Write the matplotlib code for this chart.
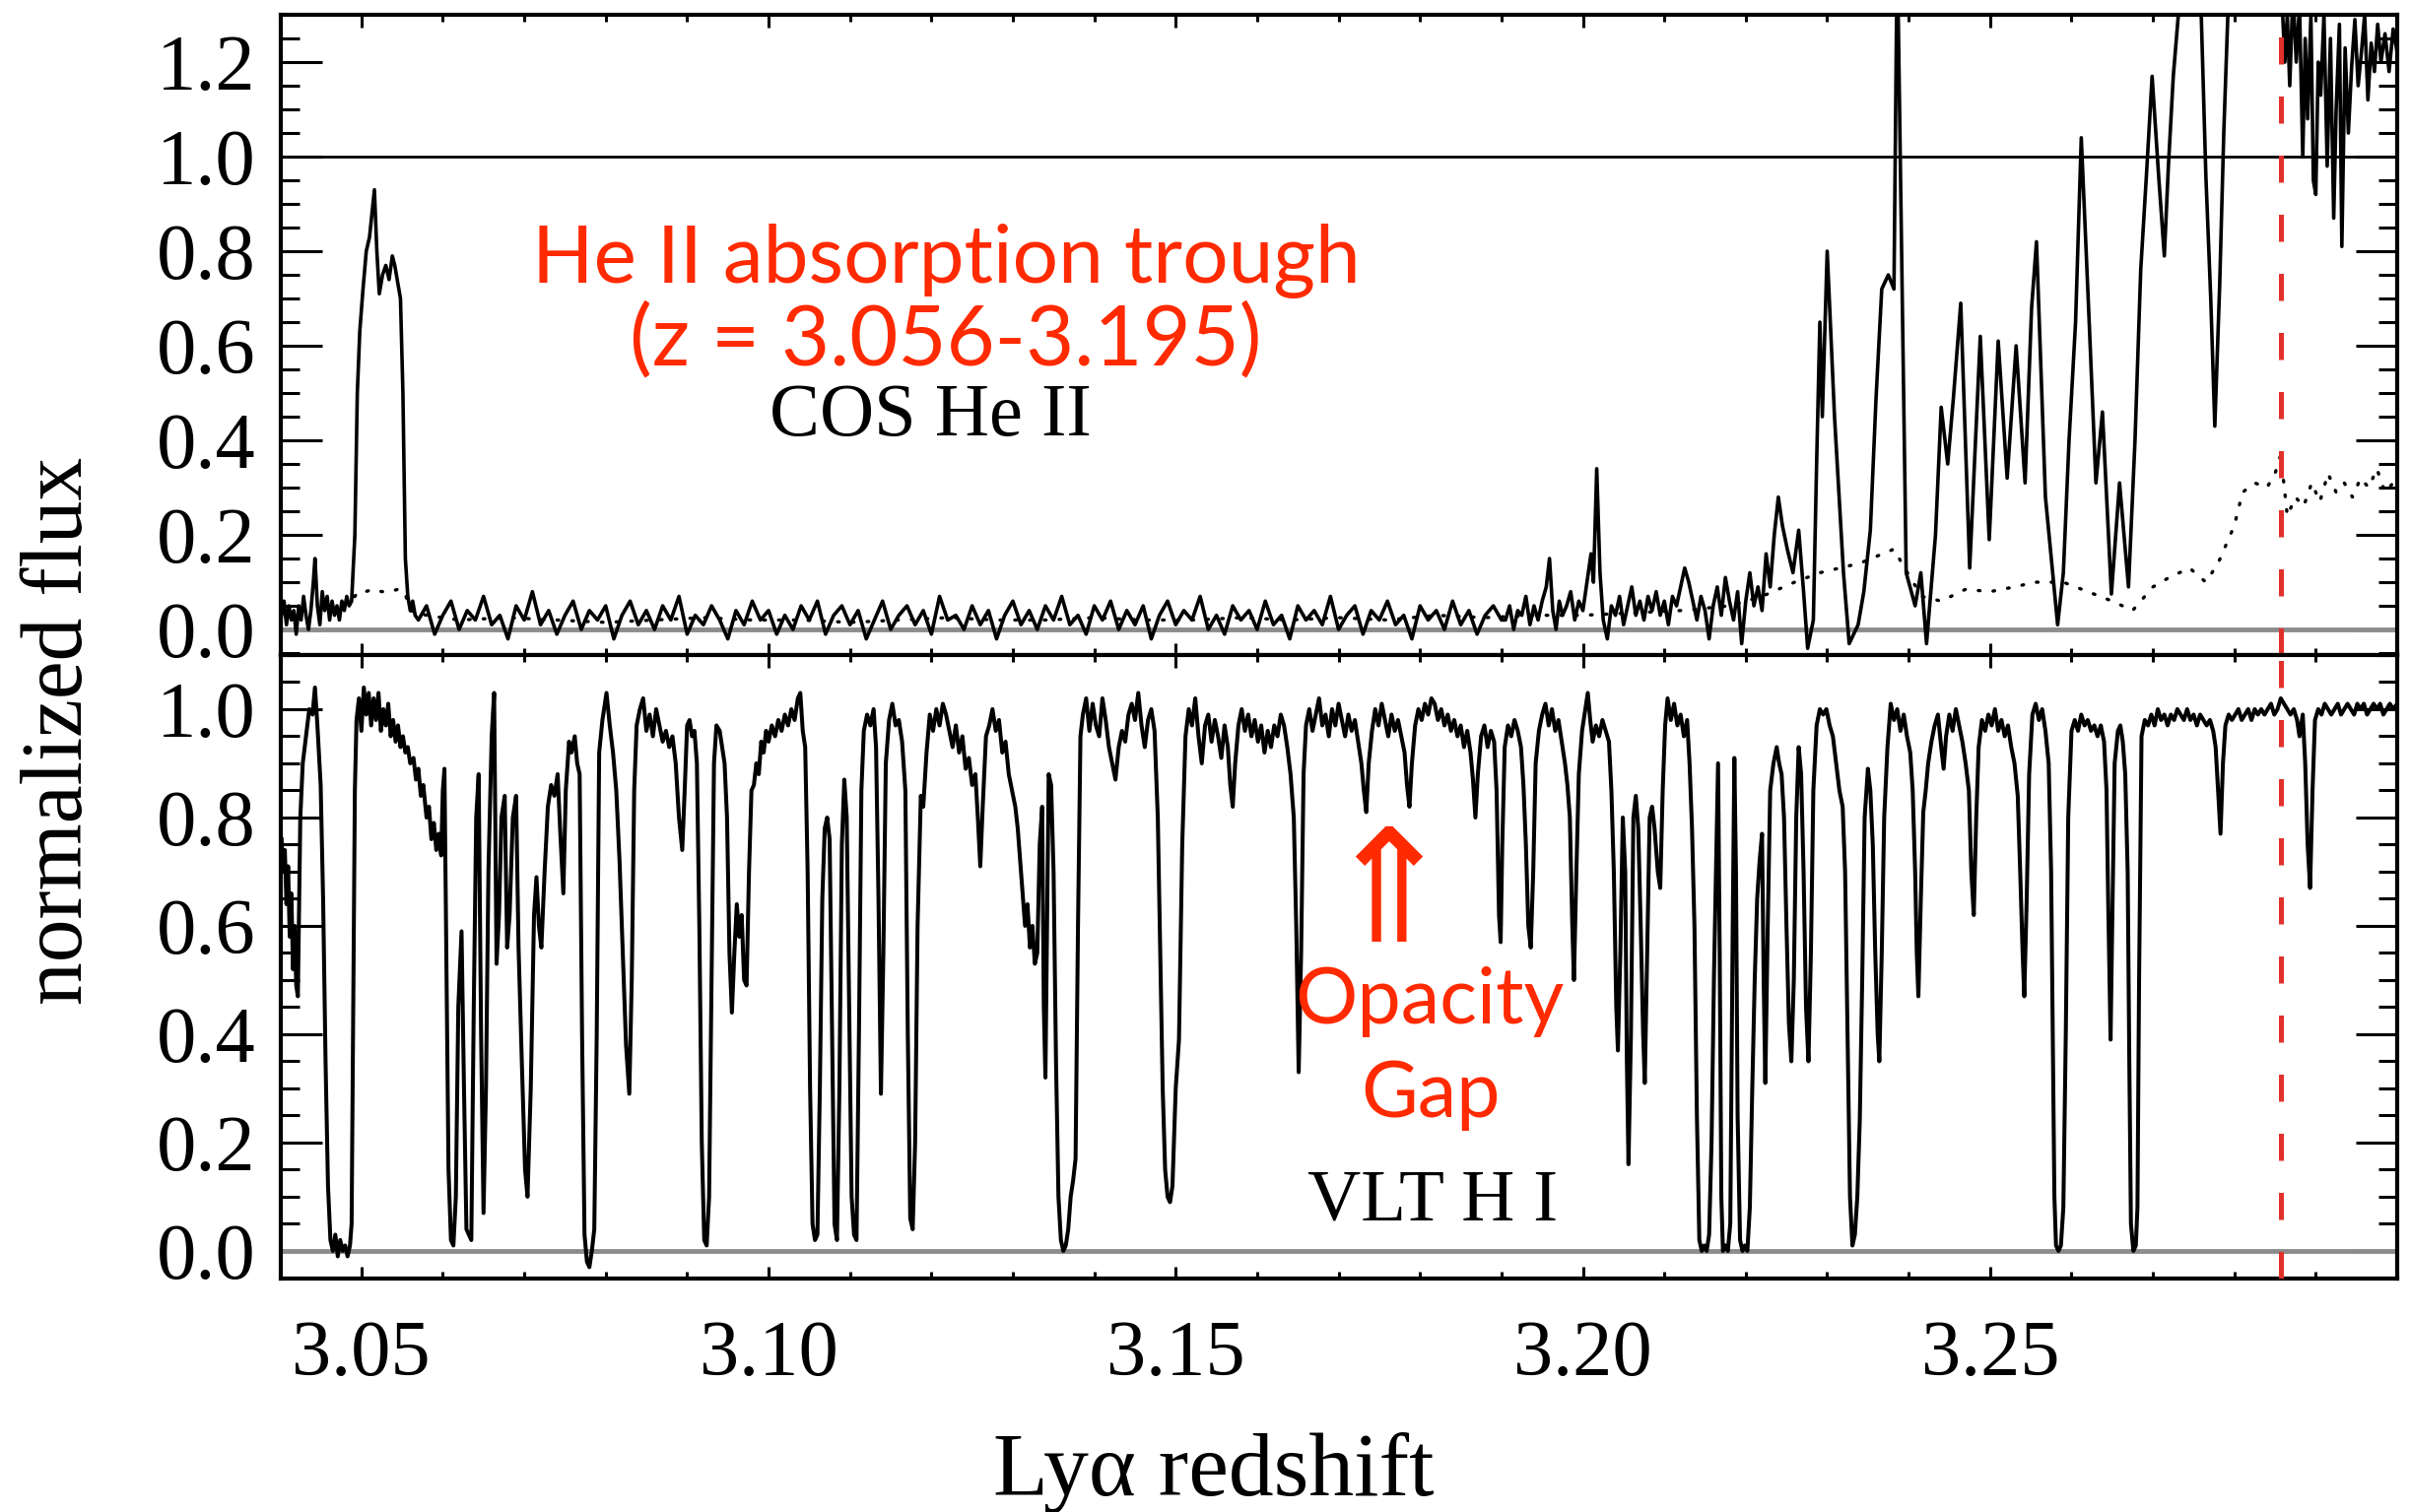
import matplotlib.pyplot as plt
from matplotlib.ticker import MultipleLocator, FixedLocator, FormatStrFormatter

# COS He II flux, upper panel
cos_z = [
    3.0402, 3.0405, 3.0408, 3.0411, 3.0414, 3.0417, 3.0420, 3.0423, 3.0426, 3.0429,
    3.0432, 3.0435, 3.0438, 3.0441, 3.0443, 3.0446, 3.0449, 3.0452, 3.0455, 3.0458,
    3.0461, 3.0464, 3.0467, 3.0470, 3.0473, 3.0476, 3.0479, 3.0482, 3.0485, 3.0488,
    3.0492, 3.0495, 3.0498, 3.0502, 3.0506, 3.0510, 3.0513, 3.0516, 3.0519, 3.0522,
    3.0526, 3.0530, 3.0534, 3.0538, 3.0541, 3.0545, 3.0548, 3.0551, 3.0554, 3.0557,
    3.0560, 3.0563, 3.0566,
    3.057, 3.058, 3.059, 3.060, 3.061, 3.062, 3.063, 3.064, 3.065, 3.066,
    3.067, 3.068, 3.069, 3.070, 3.071, 3.072, 3.073, 3.074, 3.075, 3.076,
    3.077, 3.078, 3.079, 3.080, 3.081, 3.082, 3.083, 3.084, 3.085, 3.086,
    3.087, 3.088, 3.089, 3.090, 3.091, 3.092, 3.093, 3.094, 3.095, 3.096,
    3.097, 3.098, 3.099, 3.100, 3.101, 3.102, 3.103, 3.104, 3.105, 3.106,
    3.107, 3.108, 3.109, 3.110, 3.111, 3.112, 3.113, 3.114, 3.115, 3.116,
    3.117, 3.118, 3.119, 3.120, 3.121, 3.122, 3.123, 3.124, 3.125, 3.126,
    3.127, 3.128, 3.129, 3.130, 3.131, 3.132, 3.133, 3.134, 3.135, 3.136,
    3.137, 3.138, 3.139, 3.140, 3.141, 3.142, 3.143, 3.144, 3.145, 3.146,
    3.147, 3.148, 3.149, 3.150, 3.151, 3.152, 3.153, 3.154, 3.155, 3.156,
    3.157, 3.158, 3.159, 3.160, 3.161, 3.162, 3.163, 3.164, 3.165, 3.166,
    3.167, 3.168, 3.169, 3.170, 3.171, 3.172, 3.173, 3.174, 3.175, 3.176,
    3.177, 3.178, 3.179, 3.180, 3.181, 3.182, 3.183, 3.184, 3.185, 3.186,
    3.187, 3.188, 3.189, 3.190,
    3.1905, 3.1910, 3.1915, 3.1920, 3.1925, 3.1930, 3.1935, 3.1940, 3.1945, 3.1950,
    3.1955, 3.1959, 3.1963, 3.1967, 3.1971, 3.1975, 3.1980, 3.1985, 3.1990, 3.1995,
    3.2000, 3.2005, 3.2010, 3.2013, 3.2017, 3.2021, 3.2025, 3.2030, 3.2035, 3.2040,
    3.2045, 3.2050, 3.2055, 3.2060, 3.2065, 3.2070, 3.2075, 3.2080, 3.2085, 3.2090,
    3.2095, 3.2100, 3.2105, 3.2110, 3.2115, 3.2120, 3.2125, 3.2130, 3.2135, 3.2140,
    3.2145, 3.2150, 3.2155, 3.2160, 3.2165, 3.2170, 3.2175, 3.2180, 3.2185, 3.2190,
    3.2195, 3.2200, 3.2205, 3.2210, 3.2215, 3.2220, 3.2225, 3.2230, 3.2235, 3.2240,
    3.2245, 3.2251, 3.2258, 3.2265, 3.2271, 3.2276, 3.2283, 3.2287, 3.2291, 3.2294,
    3.2300, 3.2309, 3.2320, 3.2327, 3.2338, 3.2345, 3.2353, 3.2360, 3.2367, 3.2375,
    3.2382, 3.2386, 3.2391, 3.2397, 3.2408, 3.2415, 3.2422, 3.2433, 3.2440, 3.2448,
    3.2455, 3.2464, 3.2475, 3.2488, 3.2499, 3.2510, 3.2521, 3.2532, 3.2543, 3.2551,
    3.2557, 3.2568, 3.2583, 3.2590, 3.2597, 3.2605, 3.2612, 3.2621, 3.2630, 3.2638,
    3.2649, 3.2659, 3.2670, 3.2678, 3.2685, 3.2692, 3.2699, 3.2707, 3.2714, 3.2719,
    3.2725, 3.2736, 3.2747, 3.2758, 3.2765, 3.2771, 3.2776, 3.2782, 3.2787, 3.2794,
    3.2800, 3.2810, 3.2820, 3.2830, 3.2840, 3.2850, 3.2858, 3.2862, 3.2865, 3.2868,
    3.2872, 3.2876, 3.2880, 3.2884, 3.2887, 3.2890, 3.2894, 3.2897, 3.2900, 3.2903,
    3.2906, 3.2910, 3.2914, 3.2918, 3.2922, 3.2925, 3.2929, 3.2932, 3.2936, 3.2940,
    3.2944, 3.2948, 3.2952, 3.2956, 3.2960, 3.2964, 3.2968, 3.2972, 3.2976, 3.2980,
    3.2985, 3.2990, 3.2995, 3.3000,
]
cos_flux = [
    0.03, 0.06, 0.01, 0.05, 0.02, 0.04, -0.01, 0.05, 0.02, 0.07,
    0.03, 0.00, 0.04, 0.10, 0.15, 0.05, 0.01, 0.08, 0.04, 0.07,
    0.02, 0.06, 0.03, 0.05, 0.02, 0.06, 0.04, 0.07, 0.05, 0.06,
    0.20, 0.50, 0.63, 0.72, 0.80, 0.83, 0.88, 0.93, 0.80, 0.71,
    0.75, 0.77, 0.74, 0.79, 0.77, 0.73, 0.70, 0.50, 0.15, 0.07,
    0.04, 0.06, 0.03,
    0.02, 0.05, -0.01, 0.03, 0.06, 0.00, 0.04, 0.02, 0.07, 0.01,
    0.03, -0.02, 0.05, 0.02, 0.08, 0.01, 0.04, -0.01, 0.03, 0.06,
    0.00, 0.04, 0.02, 0.05, -0.02, 0.03, 0.06, 0.01, 0.04, 0.00,
    0.05, 0.02, 0.07, -0.01, 0.03, 0.01, 0.05, 0.02, -0.02, 0.04,
    0.01, 0.06, 0.02, 0.04, -0.01, 0.03, 0.00, 0.05, 0.02, 0.06,
    -0.01, 0.03, 0.05, 0.01, 0.04, -0.02, 0.02, 0.06, 0.00, 0.03,
    0.05, 0.01, 0.04, -0.01, 0.07, 0.02, 0.03, 0.00, 0.05, 0.01,
    0.04, -0.02, 0.03, 0.06, 0.01, 0.04, 0.00, 0.05, 0.02, 0.07,
    0.01, 0.03, -0.01, 0.05, 0.02, 0.06, 0.00, 0.04, 0.01, 0.05,
    -0.02, 0.03, 0.06, 0.01, 0.04, 0.02, 0.07, 0.00, 0.03, -0.01,
    0.05, 0.02, 0.04, 0.00, 0.06, 0.01, 0.03, -0.02, 0.05, 0.02,
    0.04, 0.01, 0.07, 0.00, 0.03, 0.05, -0.01, 0.04, 0.02, 0.06,
    0.01, 0.03, -0.02, 0.05, 0.02, 0.04, 0.00, 0.06, 0.01, 0.04,
    -0.01, 0.03, 0.05, 0.02,
    0.02, 0.05, 0.00, 0.04, 0.03, 0.07, 0.01, 0.05, 0.02, 0.06,
    0.09, 0.15, 0.04, 0.00, 0.06, 0.03, 0.05, 0.08, 0.02, 0.06,
    0.04, 0.10, 0.16, 0.10, 0.34, 0.12, 0.02, -0.02, 0.05, 0.03,
    0.07, 0.01, 0.05, 0.09, 0.03, 0.06, 0.02, 0.07, 0.04, 0.08,
    0.03, 0.06, 0.01, 0.07, 0.05, 0.09, 0.13, 0.10, 0.06, 0.02,
    0.07, 0.04, -0.02, 0.05, 0.09, 0.03, 0.11, 0.06, 0.02, 0.08,
    -0.03, 0.06, 0.12, 0.05, 0.09, 0.04, 0.16, 0.09, 0.20, 0.28,
    0.22, 0.17, 0.12, 0.21, 0.08, -0.04, 0.02, 0.35, 0.65, 0.45,
    0.80, 0.45, 0.12, -0.03, 0.01, 0.08, 0.21, 0.49, 0.72, 0.75,
    0.72, 1.45, 0.85, 0.12, 0.05, 0.12, -0.03, 0.20, 0.47, 0.35,
    0.49, 0.69, 0.13, 0.62, 0.19, 0.61, 0.32, 0.60, 0.31, 0.68,
    0.82, 0.28, 0.01, 0.12, 0.40, 0.65, 1.04, 0.68, 0.31, 0.46,
    0.075, 0.31, 0.09, 0.40, 0.76, 0.96, 1.17, 0.96, 0.79, 0.98,
    1.17, 1.40, 1.45, 1.38, 0.96, 0.70, 0.43, 0.73, 1.05, 1.40,
    1.50, 1.45, 1.55, 1.48, 1.50, 1.42, 1.35, 1.20, 1.30, 1.15,
    1.35, 1.20, 1.32, 1.00, 1.25, 1.08, 1.30, 0.95, 0.92, 1.20,
    1.13, 1.30, 0.98, 1.25, 0.87, 1.10, 1.28, 0.81, 1.23, 1.05,
    1.19, 1.29, 1.15, 1.22, 1.30, 1.12, 1.24, 1.18, 1.28, 1.20,
    1.26, 1.18, 1.27, 1.22,
]

# dotted COS curve
cos_dot_z = [
    3.0478, 3.0488, 3.0496, 3.0505, 3.0515, 3.0525, 3.0535, 3.0545, 3.0553, 3.0560,
    3.0580, 3.0620, 3.0680, 3.0740, 3.0800, 3.0860, 3.0920, 3.0980, 3.1040, 3.1100,
    3.1160, 3.1220, 3.1280, 3.1340, 3.1400, 3.1460, 3.1520, 3.1580, 3.1640, 3.1700,
    3.1760, 3.1820, 3.1880, 3.1940, 3.2000, 3.2060, 3.2120, 3.2180, 3.2220, 3.2260,
    3.2291, 3.2340, 3.2382, 3.2395, 3.2416, 3.2440, 3.2470, 3.2500, 3.2530, 3.2555,
    3.2590, 3.2620, 3.2650, 3.2675, 3.2700, 3.2720, 3.2745, 3.2765, 3.2780, 3.2800,
    3.2810, 3.2825, 3.2840, 3.2850, 3.2857, 3.2865, 3.2875, 3.2885, 3.2895, 3.2905,
    3.2915, 3.2925, 3.2935, 3.2945, 3.2955, 3.2965, 3.2975, 3.2985, 3.2995,
]
cos_dot = [
    0.05, 0.06, 0.08, 0.08, 0.085, 0.08, 0.08, 0.085, 0.08, 0.04,
    0.03, 0.02, 0.025, 0.02, 0.015, 0.02, 0.025, 0.02, 0.02, 0.015,
    0.02, 0.025, 0.02, 0.02, 0.025, 0.02, 0.02, 0.025, 0.02, 0.025,
    0.02, 0.03, 0.025, 0.03, 0.03, 0.035, 0.04, 0.05, 0.07, 0.10,
    0.12, 0.14, 0.17, 0.13, 0.07, 0.06, 0.085, 0.08, 0.09, 0.10,
    0.10, 0.08, 0.06, 0.04, 0.09, 0.11, 0.13, 0.10, 0.14, 0.22,
    0.29, 0.31, 0.30, 0.33, 0.37, 0.24, 0.28, 0.26, 0.31, 0.27,
    0.33, 0.29, 0.31, 0.28, 0.32, 0.30, 0.34, 0.29, 0.31,
]

# VLT H I flux, lower panel
vlt_z = [
    3.0402, 3.0404, 3.0406, 3.0408, 3.0410, 3.0412, 3.0414, 3.0416, 3.0418, 3.0420,
    3.0422, 3.0425, 3.0428, 3.0432, 3.0436, 3.0440, 3.0443, 3.0446, 3.0450, 3.0453,
    3.0456, 3.0459, 3.0462, 3.0465, 3.0468, 3.0471, 3.0474, 3.0477, 3.0480, 3.0483,
    3.0486, 3.0488, 3.0490, 3.0492, 3.0494, 3.0497, 3.0500, 3.0503, 3.0506, 3.0509,
    3.0512, 3.0515, 3.0518, 3.0521, 3.0524, 3.0527, 3.0530, 3.0533, 3.0536, 3.0539,
    3.0542, 3.0545, 3.0548, 3.0551, 3.0554, 3.0557, 3.0560, 3.0564, 3.0567, 3.0570,
    3.0573, 3.0576, 3.0580, 3.0583, 3.0586, 3.0589, 3.0592, 3.0595, 3.0598, 3.0600,
    3.0602, 3.0604, 3.0607, 3.0610, 3.0613, 3.0616, 3.0619, 3.0623, 3.0626, 3.0629,
    3.0632, 3.0635, 3.0638, 3.0641, 3.0644, 3.0647, 3.0650, 3.0653, 3.0656, 3.0660,
    3.0663, 3.0666, 3.0669, 3.0672, 3.0676, 3.0679, 3.0682, 3.0686, 3.0690, 3.0693,
    3.0697, 3.0701, 3.0704, 3.0708, 3.0712, 3.0715, 3.0718, 3.0721, 3.0725, 3.0729,
    3.0733, 3.0737, 3.0741, 3.0744, 3.0748, 3.0751, 3.0755, 3.0758, 3.0762, 3.0765,
    3.0768, 3.0771, 3.0774, 3.0777, 3.0780, 3.0783, 3.0786, 3.0789, 3.0792, 3.0796,
    3.0801, 3.0805, 3.0809, 3.0813, 3.0817, 3.0821, 3.0825, 3.0829, 3.0832, 3.0835,
    3.0838, 3.0842, 3.0846, 3.0850, 3.0854, 3.0858, 3.0862, 3.0866, 3.0870, 3.0874,
    3.0878, 3.0882, 3.0886, 3.0890, 3.0894, 3.0897, 3.0900, 3.0903, 3.0906, 3.0909,
    3.0912, 3.0915, 3.0918, 3.0921, 3.0924, 3.0927, 3.0930, 3.0933, 3.0936, 3.0940,
    3.0943, 3.0946, 3.0949, 3.0952, 3.0955, 3.0958, 3.0961, 3.0964, 3.0967, 3.0970,
    3.0973, 3.0976, 3.0979, 3.0982, 3.0985, 3.0988, 3.0991, 3.0994, 3.0997, 3.1000,
    3.1004, 3.1008, 3.1012, 3.1016, 3.1020, 3.1024, 3.1028, 3.1032, 3.1036, 3.1039,
    3.1042, 3.1045, 3.1048, 3.1051, 3.1054, 3.1057, 3.1060, 3.1063, 3.1066, 3.1069,
    3.1072, 3.1075, 3.1078, 3.1081, 3.1084, 3.1087, 3.1090, 3.1093, 3.1096, 3.1099,
    3.1102, 3.1105, 3.1108, 3.1111, 3.1114, 3.1117, 3.1121, 3.1125, 3.1129, 3.1132,
    3.1135, 3.1138, 3.1141, 3.1144, 3.1148, 3.1152, 3.1156, 3.1160, 3.1164, 3.1168,
    3.1171, 3.1174, 3.1177, 3.1180, 3.1183, 3.1187, 3.1190, 3.1194, 3.1198, 3.1202,
    3.1206, 3.1210, 3.1214, 3.1218, 3.1222, 3.1226, 3.1230, 3.1234, 3.1238, 3.1242,
    3.1246, 3.1250, 3.1254, 3.1257, 3.1260, 3.1263, 3.1267, 3.1271, 3.1275, 3.1279,
    3.1283, 3.1287, 3.1291, 3.1295, 3.1299, 3.1303, 3.1306, 3.1309, 3.1312, 3.1315,
    3.1318, 3.1321, 3.1324, 3.1327, 3.1330, 3.1333, 3.1336, 3.1338, 3.1340, 3.1342,
    3.1344, 3.1347, 3.1350, 3.1353, 3.1356, 3.1359, 3.1362, 3.1365, 3.1368, 3.1371,
    3.1374, 3.1377, 3.1380, 3.1383, 3.1386, 3.1390, 3.1394, 3.1398, 3.1402, 3.1406,
    3.1410, 3.1414, 3.1418, 3.1422, 3.1426, 3.1430, 3.1434, 3.1438, 3.1442, 3.1446,
    3.1450, 3.1454, 3.1458, 3.1462, 3.1466, 3.1470, 3.1474, 3.1478, 3.1481, 3.1484,
    3.1487, 3.1490, 3.1493, 3.1496, 3.1500, 3.1504, 3.1508, 3.1512, 3.1516, 3.1520,
    3.1524, 3.1528, 3.1532, 3.1536, 3.1540, 3.1544, 3.1548, 3.1552, 3.1556, 3.1560,
    3.1564, 3.1567, 3.1570, 3.1573, 3.1577, 3.1581, 3.1585, 3.1589, 3.1593, 3.1597,
    3.1601, 3.1605, 3.1609, 3.1613, 3.1617, 3.1621, 3.1625, 3.1629, 3.1633, 3.1637,
    3.1641, 3.1645, 3.1648, 3.1651, 3.1654, 3.1657, 3.1660, 3.1664, 3.1668, 3.1672,
    3.1676, 3.1680, 3.1684, 3.1688, 3.1692, 3.1696, 3.1700, 3.1704, 3.1708, 3.1712,
    3.1716, 3.1720, 3.1724, 3.1728, 3.1731, 3.1734, 3.1737, 3.1741, 3.1745, 3.1749,
    3.1753, 3.1757, 3.1761, 3.1765, 3.1769, 3.1773, 3.1777, 3.1781, 3.1784, 3.1787,
    3.1790, 3.1794, 3.1798, 3.1802, 3.1806, 3.1810, 3.1814, 3.1818, 3.1822, 3.1826,
    3.1830, 3.1834, 3.1838, 3.1842, 3.1846, 3.1850, 3.1854, 3.1858, 3.1862, 3.1865,
    3.1868, 3.1871, 3.1875, 3.1879, 3.1883, 3.1887, 3.1891, 3.1894, 3.1897, 3.1899,
    3.1901, 3.1904, 3.1908, 3.1912, 3.1916, 3.1920, 3.1924, 3.1927, 3.1930, 3.1933,
    3.1936, 3.1939, 3.1942, 3.1946, 3.1950, 3.1954, 3.1958, 3.1962, 3.1966, 3.1970,
    3.1974, 3.1978, 3.1981, 3.1984, 3.1987, 3.1989, 3.1992, 3.1995, 3.1999, 3.2003,
    3.2006, 3.2009, 3.2012, 3.2016, 3.2020, 3.2024, 3.2028, 3.2032, 3.2035, 3.2038,
    3.2041, 3.2043, 3.2046, 3.2049, 3.2052, 3.2054, 3.2056, 3.2059, 3.2062, 3.2065,
    3.2068, 3.2071, 3.2074, 3.2076, 3.2079, 3.2082, 3.2085, 3.2088, 3.2092, 3.2095,
    3.2098, 3.2101, 3.2104, 3.2108, 3.2112, 3.2116, 3.2120, 3.2124, 3.2128, 3.2131,
    3.2134, 3.2137, 3.2140, 3.2143, 3.2146, 3.2149, 3.2152, 3.2155, 3.2158, 3.2161,
    3.2164, 3.2166, 3.2168, 3.2170, 3.2172, 3.2175, 3.2178, 3.2181, 3.2184, 3.2186,
    3.2188, 3.2190, 3.2193, 3.2196, 3.2199, 3.2202, 3.2205, 3.2208, 3.2211, 3.2214,
    3.2217, 3.2220, 3.2222, 3.2224, 3.2227, 3.2230, 3.2234, 3.2238, 3.2241, 3.2244,
    3.2247, 3.2250, 3.2253, 3.2256, 3.2259, 3.2262, 3.2265, 3.2268, 3.2271, 3.2274,
    3.2277, 3.2280, 3.2283, 3.2287, 3.2291, 3.2295, 3.2299, 3.2303, 3.2307, 3.2311,
    3.2315, 3.2319, 3.2322, 3.2325, 3.2328, 3.2331, 3.2334, 3.2337, 3.2340, 3.2343,
    3.2346, 3.2350, 3.2353, 3.2356, 3.2359, 3.2362, 3.2364, 3.2367, 3.2370, 3.2374,
    3.2378, 3.2382, 3.2386, 3.2390, 3.2394, 3.2398, 3.2402, 3.2405, 3.2408, 3.2410,
    3.2412, 3.2415, 3.2418, 3.2421, 3.2424, 3.2428, 3.2432, 3.2436, 3.2440, 3.2443,
    3.2446, 3.2450, 3.2454, 3.2458, 3.2462, 3.2466, 3.2470, 3.2474, 3.2477, 3.2480,
    3.2483, 3.2486, 3.2490, 3.2494, 3.2498, 3.2502, 3.2506, 3.2510, 3.2514, 3.2518,
    3.2522, 3.2526, 3.2530, 3.2534, 3.2537, 3.2540, 3.2542, 3.2545, 3.2548, 3.2552,
    3.2556, 3.2560, 3.2564, 3.2568, 3.2572, 3.2575, 3.2577, 3.2579, 3.2581, 3.2584,
    3.2587, 3.2590, 3.2593, 3.2596, 3.2600, 3.2604, 3.2608, 3.2612, 3.2616, 3.2620,
    3.2624, 3.2628, 3.2632, 3.2636, 3.2640, 3.2643, 3.2645, 3.2648, 3.2650, 3.2653,
    3.2657, 3.2660, 3.2663, 3.2666, 3.2669, 3.2671, 3.2673, 3.2676, 3.2679, 3.2681,
    3.2683, 3.2686, 3.2690, 3.2694, 3.2698, 3.2702, 3.2706, 3.2710, 3.2714, 3.2718,
    3.2722, 3.2726, 3.2730, 3.2734, 3.2738, 3.2742, 3.2746, 3.2750, 3.2754, 3.2758,
    3.2762, 3.2766, 3.2770, 3.2774, 3.2777, 3.2780, 3.2783, 3.2786, 3.2789, 3.2793,
    3.2797, 3.2801, 3.2805, 3.2809, 3.2813, 3.2817, 3.2821, 3.2825, 3.2829, 3.2833,
    3.2837, 3.2841, 3.2845, 3.2849, 3.2853, 3.2857, 3.2861, 3.2865, 3.2869, 3.2873,
    3.2877, 3.2880, 3.2884, 3.2887, 3.2890, 3.2893, 3.2896, 3.2899, 3.2903, 3.2907,
    3.2911, 3.2915, 3.2919, 3.2923, 3.2927, 3.2931, 3.2935, 3.2939, 3.2943, 3.2947,
    3.2951, 3.2955, 3.2959, 3.2963, 3.2967, 3.2971, 3.2975, 3.2979, 3.2983, 3.2987,
    3.2991, 3.2995, 3.3000,
]
vlt_flux = [
    0.76, 0.70, 0.74, 0.64, 0.71, 0.58, 0.66, 0.52, 0.60, 0.49,
    0.47, 0.80, 0.90, 0.95, 1.00, 0.99, 1.04, 0.97, 0.86, 0.65,
    0.35, 0.12, 0.02, 0.00, 0.03, -0.01, 0.02, 0.00, 0.01, -0.01,
    0.01, 0.05, 0.45, 0.85, 0.98, 1.02, 0.96, 1.04, 0.99, 1.03,
    0.97, 1.02, 0.98, 1.03, 0.96, 1.00, 0.97, 1.01, 0.95, 0.98,
    0.94, 0.97, 0.93, 0.95, 0.92, 0.93, 0.90, 0.91, 0.87, 0.89,
    0.84, 0.86, 0.80, 0.82, 0.76, 0.79, 0.74, 0.77, 0.73, 0.85,
    0.89, 0.60, 0.15, 0.02, 0.01, 0.10, 0.45, 0.59, 0.30, 0.04,
    0.03, 0.02, 0.45, 0.80, 0.88, 0.40, 0.07, 0.30, 0.70, 0.95,
    1.03, 0.53, 0.62, 0.80, 0.84, 0.56, 0.62, 0.80, 0.84, 0.56,
    0.35, 0.15, 0.10, 0.30, 0.62, 0.69, 0.60, 0.56, 0.70, 0.82,
    0.86, 0.84, 0.88, 0.78, 0.66, 0.85, 0.94, 0.92, 0.95, 0.90,
    0.88, 0.40, 0.03, -0.02, -0.03, 0.00, 0.04, 0.40, 0.92, 0.98,
    1.03, 0.97, 0.92, 0.85, 0.72, 0.55, 0.38, 0.29, 0.50, 0.85,
    0.97, 1.00, 1.02, 0.96, 0.99, 0.95, 1.00, 0.97, 0.94, 0.96,
    0.93, 0.95, 0.90, 0.80, 0.74, 0.85, 0.97, 0.98, 0.95, 0.96,
    0.90, 0.60, 0.20, 0.02, 0.01, 0.10, 0.50, 0.90, 0.97, 0.96,
    0.93, 0.90, 0.80, 0.55, 0.44, 0.55, 0.64, 0.58, 0.62, 0.50,
    0.49, 0.70, 0.85, 0.86, 0.90, 0.88, 0.94, 0.92, 0.96, 0.94,
    0.97, 0.95, 0.98, 0.96, 0.99, 0.97, 1.00, 0.98, 1.02, 1.03,
    0.96, 0.93, 0.70, 0.30, 0.05, 0.02, 0.03, 0.30, 0.65, 0.78,
    0.80, 0.76, 0.40, 0.05, 0.02, 0.30, 0.75, 0.87, 0.80, 0.45,
    0.10, 0.03, 0.02, 0.40, 0.85, 0.96, 0.99, 0.97, 1.00, 0.93,
    0.65, 0.29, 0.55, 0.90, 0.98, 1.01, 0.97, 0.98, 0.94, 0.85,
    0.40, 0.06, 0.04, 0.20, 0.60, 0.84, 0.82, 0.92, 0.99, 0.96,
    1.00, 0.97, 1.01, 0.99, 0.96, 0.93, 0.97, 0.92, 0.95, 0.89,
    0.91, 0.86, 0.88, 0.80, 0.71, 0.82, 0.95, 0.97, 1.00, 0.96,
    0.98, 0.92, 0.94, 0.88, 0.85, 0.82, 0.78, 0.72, 0.66, 0.60,
    0.64, 0.56, 0.60, 0.53, 0.55, 0.75, 0.82, 0.45, 0.32, 0.60,
    0.88, 0.86, 0.70, 0.35, 0.10, 0.02, 0.00, 0.01, 0.04, 0.10,
    0.13, 0.17, 0.60, 0.95, 0.99, 1.02, 0.96, 1.01, 0.97, 0.95,
    1.02, 0.98, 0.93, 0.90, 0.87, 0.93, 0.96, 0.94, 0.99, 1.01,
    0.98, 1.03, 0.97, 0.93, 0.98, 1.00, 0.96, 0.80, 0.55, 0.30,
    0.15, 0.10, 0.09, 0.12, 0.30, 0.39, 0.75, 0.95, 1.00, 0.97,
    1.02, 0.95, 0.90, 0.97, 0.99, 0.94, 0.98, 0.95, 0.91, 0.97,
    0.93, 0.86, 0.82, 0.90, 0.97, 1.00, 0.96, 0.99, 0.95, 0.98,
    0.94, 0.97, 0.92, 0.96, 0.93, 0.97, 0.95, 0.99, 0.97, 0.93,
    0.88, 0.80, 0.60, 0.33, 0.55, 0.88, 0.97, 1.00, 0.96, 0.99,
    1.02, 0.97, 0.99, 0.95, 1.00, 0.97, 1.01, 0.98, 0.95, 0.99,
    0.96, 0.98, 0.94, 0.90, 0.85, 0.81, 0.90, 0.96, 1.00, 0.97,
    1.01, 0.98, 0.95, 0.99, 0.96, 0.98, 0.95, 0.92, 0.86, 0.82,
    0.90, 0.97, 1.00, 0.98, 1.01, 0.99, 1.02, 1.01, 0.98, 1.00,
    0.97, 0.99, 0.96, 0.98, 0.95, 0.97, 0.93, 0.96, 0.92, 0.87,
    0.80, 0.88, 0.95, 0.97, 0.93, 0.96, 0.94, 0.85, 0.62, 0.57,
    0.75, 0.93, 0.97, 0.95, 0.98, 0.96, 0.93, 0.86, 0.75, 0.60,
    0.56, 0.70, 0.90, 0.96, 0.99, 1.01, 0.97, 1.00, 0.96, 0.98,
    0.94, 0.90, 0.86, 0.80, 0.60, 0.50, 0.70, 0.88, 0.96, 1.00,
    1.03, 0.98, 0.94, 0.97, 0.95, 0.98, 0.96, 0.94, 0.85, 0.70,
    0.45, 0.37, 0.55, 0.80, 0.70, 0.35, 0.16, 0.40, 0.80, 0.84,
    0.78, 0.60, 0.40, 0.31, 0.55, 0.80, 0.82, 0.78, 0.70, 0.67,
    0.85, 0.97, 1.02, 0.98, 1.01, 0.97, 0.99, 0.95, 0.98, 0.90,
    0.78, 0.60, 0.25, 0.02, 0.00, 0.01, 0.00, 0.03, 0.20, 0.51,
    0.75, 0.90, 0.55, 0.10, 0.00, 0.01, 0.00, 0.05, 0.60, 0.91,
    0.70, 0.25, 0.02, 0.00, 0.01, 0.00, 0.08, 0.30, 0.50, 0.65,
    0.72, 0.77, 0.50, 0.31, 0.60, 0.85, 0.90, 0.93, 0.90, 0.88,
    0.80, 0.60, 0.42, 0.35, 0.50, 0.80, 0.93, 0.88, 0.70, 0.45,
    0.35, 0.55, 0.85, 0.97, 1.00, 0.99, 1.00, 0.97, 0.95, 0.90,
    0.85, 0.82, 0.70, 0.40, 0.10, 0.01, 0.03, 0.10, 0.24, 0.50,
    0.80, 0.89, 0.85, 0.75, 0.55, 0.40, 0.35, 0.55, 0.80, 0.93,
    1.01, 0.98, 1.00, 0.96, 0.99, 0.95, 0.92, 0.85, 0.70, 0.55,
    0.47, 0.65, 0.81, 0.85, 0.90, 0.94, 0.97, 0.99, 0.93, 0.89,
    0.95, 0.99, 0.96, 1.00, 0.97, 0.94, 0.90, 0.85, 0.70, 0.62,
    0.80, 0.93, 0.98, 0.96, 0.99, 0.97, 1.00, 0.96, 0.98, 0.95,
    0.97, 0.93, 0.90, 0.84, 0.70, 0.55, 0.47, 0.65, 0.88, 0.99,
    1.01, 0.98, 1.00, 0.96, 0.90, 0.70, 0.40, 0.10, 0.01, 0.00,
    0.01, 0.08, 0.40, 0.80, 0.96, 0.98, 0.96, 0.99, 0.97, 0.98,
    0.96, 0.97, 0.95, 0.97, 0.94, 0.85, 0.65, 0.39, 0.60, 0.90,
    0.96, 0.97, 0.94, 0.88, 0.70, 0.35, 0.05, 0.00, 0.01, 0.08,
    0.50, 0.95, 0.98, 0.97, 0.99, 0.97, 1.00, 0.98, 0.99, 0.97,
    0.99, 0.98, 1.00, 0.99, 0.98, 1.00, 0.98, 0.99, 0.97, 0.99,
    0.98, 0.97, 0.98, 0.96, 0.93, 0.85, 0.77, 0.90, 0.97, 0.99,
    0.98, 0.99, 1.00, 0.98, 0.99, 1.00, 0.98, 1.00, 0.99, 1.00,
    0.99, 1.00, 1.01, 0.99, 1.00, 1.02, 1.01, 1.00, 0.99, 1.00,
    0.98, 0.95, 0.99, 0.90, 0.75, 0.67, 0.85, 0.98, 1.00, 0.99,
    1.01, 1.00, 0.99, 1.00, 1.01, 0.99, 1.00, 1.01, 1.00, 0.99,
    1.01, 1.00, 1.01, 0.99, 1.00, 1.01, 1.00, 1.01, 0.99, 1.00,
    1.01, 1.00, 1.01,
]

z_ticks = [3.05, 3.10, 3.15, 3.20, 3.25]
z_qso = 3.2857
x_range = (3.0401, 3.3)
red = '#ff2a00'
serif = 'Liberation Serif'

fig = plt.figure(figsize=(24.46, 15.35), dpi=100)
ax1 = fig.add_axes([0.1165, 0.5668, 0.8782, 0.4234])
ax2 = fig.add_axes([0.1165, 0.1544, 0.8782, 0.4124])

ax1.plot(cos_z, cos_flux, color='k', lw=2.6, zorder=3)
ax1.plot(cos_dot_z, cos_dot, color='k', lw=2.4, dashes=(0.5, 4),
         dash_capstyle='round', zorder=3)
ax1.axhline(1.0, color='k', lw=2.0, zorder=2)
ax1.set_ylim(-0.054, 1.30)

ax2.plot(vlt_z, vlt_flux, color='k', lw=2.9, zorder=3)
ax2.set_ylim(-0.051, 1.10)

for ax in (ax1, ax2):
    ax.set_xlim(*x_range)
    ax.axhline(0.0, color='#8c8c8c', lw=3.5, zorder=2)
    ax.axvline(z_qso, color='#e2302a', lw=3.6, dashes=(5.5, 6.5), zorder=4)
    ax.xaxis.set_major_locator(FixedLocator(z_ticks))
    ax.xaxis.set_minor_locator(MultipleLocator(0.01))
    ax.yaxis.set_major_locator(MultipleLocator(0.2))
    ax.yaxis.set_minor_locator(MultipleLocator(0.05))
    ax.yaxis.set_major_formatter(FormatStrFormatter('%.1f'))
    ax.tick_params(which='both', direction='in', top=True, right=True, width=2.2,
                   labelsize=58)
    ax.tick_params(axis='y', which='major', length=30, pad=18)
    ax.tick_params(axis='y', which='minor', length=14)
    ax.tick_params(axis='x', which='major', length=9, pad=30)
    ax.tick_params(axis='x', which='minor', length=5)
    for sp in ax.spines.values():
        sp.set_linewidth(3)
    for lab in ax.get_xticklabels() + ax.get_yticklabels():
        lab.set_family(serif)

ax1.tick_params(axis='x', labelbottom=False)
ax2.xaxis.set_major_formatter(FormatStrFormatter('%.2f'))

fig.text(0.0253, 0.517, 'normalized flux', rotation=90, ha='center', va='center',
         fontsize=63, family=serif)
fig.text(0.5037, 0.026, 'Lyα redshift', ha='center', va='center',
         fontsize=66, family=serif)

fig.text(0.3925, 0.8274, 'He II absorption trough', ha='center', va='center',
         color=red, fontsize=59, family='Lato')
fig.text(0.3925, 0.7746, '(z = 3.056-3.195)', ha='center', va='center',
         color=red, fontsize=61, family='Lato')
fig.text(0.386, 0.7238, 'COS He II', ha='center', va='center',
         fontsize=55, family=serif)

fig.text(0.576, 0.4065, '⇑', ha='center', va='center', color=red,
         fontsize=115, family='DejaVu Sans')
fig.text(0.593, 0.3375, 'Opacity', ha='center', va='center', color=red,
         fontsize=57, family='Lato')
fig.text(0.5936, 0.2756, 'Gap', ha='center', va='center', color=red,
         fontsize=57, family='Lato')
fig.text(0.5944, 0.2046, 'VLT H I', ha='center', va='center',
         fontsize=54, family=serif)

fig.savefig('out.png', dpi=100)
